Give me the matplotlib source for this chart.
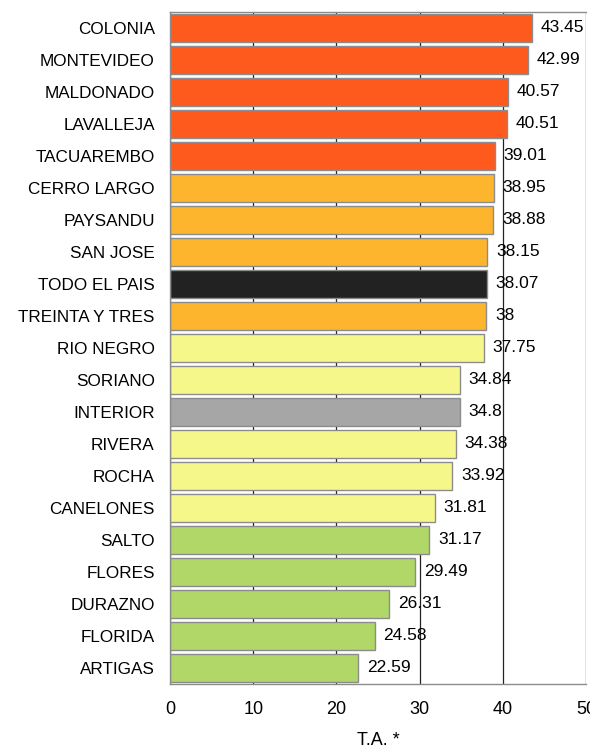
import matplotlib
matplotlib.use("Agg")
import matplotlib.pyplot as plt

plt.rcParams['font.family'] = ['Liberation Sans', 'DejaVu Sans']

categories = ["COLONIA", "MONTEVIDEO", "MALDONADO", "LAVALLEJA", "TACUAREMBO",
              "CERRO LARGO", "PAYSANDU", "SAN JOSE", "TODO EL PAIS", "TREINTA Y TRES",
              "RIO NEGRO", "SORIANO", "INTERIOR", "RIVERA", "ROCHA", "CANELONES",
              "SALTO", "FLORES", "DURAZNO", "FLORIDA", "ARTIGAS"]
values = [43.45, 42.99, 40.57, 40.51, 39.01, 38.95, 38.88, 38.15, 38.07, 38,
          37.75, 34.84, 34.8, 34.38, 33.92, 31.81, 31.17, 29.49, 26.31, 24.58, 22.59]
labels = ["43.45", "42.99", "40.57", "40.51", "39.01", "38.95", "38.88", "38.15", "38.07", "38",
          "37.75", "34.84", "34.8", "34.38", "33.92", "31.81", "31.17", "29.49", "26.31", "24.58", "22.59"]
groups = ["red"] * 5 + ["orange"] * 3 + ["black"] + ["orange"] + ["yellow"] * 2 + ["gray"] + \
         ["yellow"] * 3 + ["green"] * 5
palette = {"red": "#FF5A1E", "orange": "#FDB52D", "black": "#222222",
           "yellow": "#F6F78A", "gray": "#A6A6A6", "green": "#B0D767"}
xticks = [0, 10, 20, 30, 40, 50]

fig = plt.figure(figsize=(5.9, 7.49), dpi=100)
ax = fig.add_axes([170/590, 1 - 684/749, 416/590, 672/749])

ypos = list(range(len(categories)))
ax.barh(ypos, values, height=0.86, color=[palette[g] for g in groups],
        edgecolor="#8C8C8C", linewidth=1.0, zorder=2)
for y, v, t in zip(ypos, values, labels):
    ax.annotate(t, (v, y), xytext=(6.3, 0), textcoords="offset points",
                va="center", ha="left", fontsize=12.5, color="black", zorder=3)

ax.set_xlim(0, 50)
ax.set_ylim(len(categories) - 0.5, -0.5)
ax.set_yticks(ypos)
ax.set_yticklabels(categories, fontsize=12.3)
ax.set_xticks(xticks)
ax.set_xticklabels([str(x) for x in xticks], fontsize=13)
ax.tick_params(axis="both", length=0)
ax.tick_params(axis="x", pad=12)
ax.tick_params(axis="y", pad=11)
ax.xaxis.grid(True, color="#222222", linewidth=0.9, zorder=0)
ax.set_axisbelow(True)
for s in ["left", "top", "bottom"]:
    ax.spines[s].set_color("#8C8C8C")
    ax.spines[s].set_linewidth(1.0)
ax.spines["right"].set_visible(False)
ax.set_xlabel("T.A. *", fontsize=13, labelpad=10)

fig.savefig("out.png", dpi=100)
